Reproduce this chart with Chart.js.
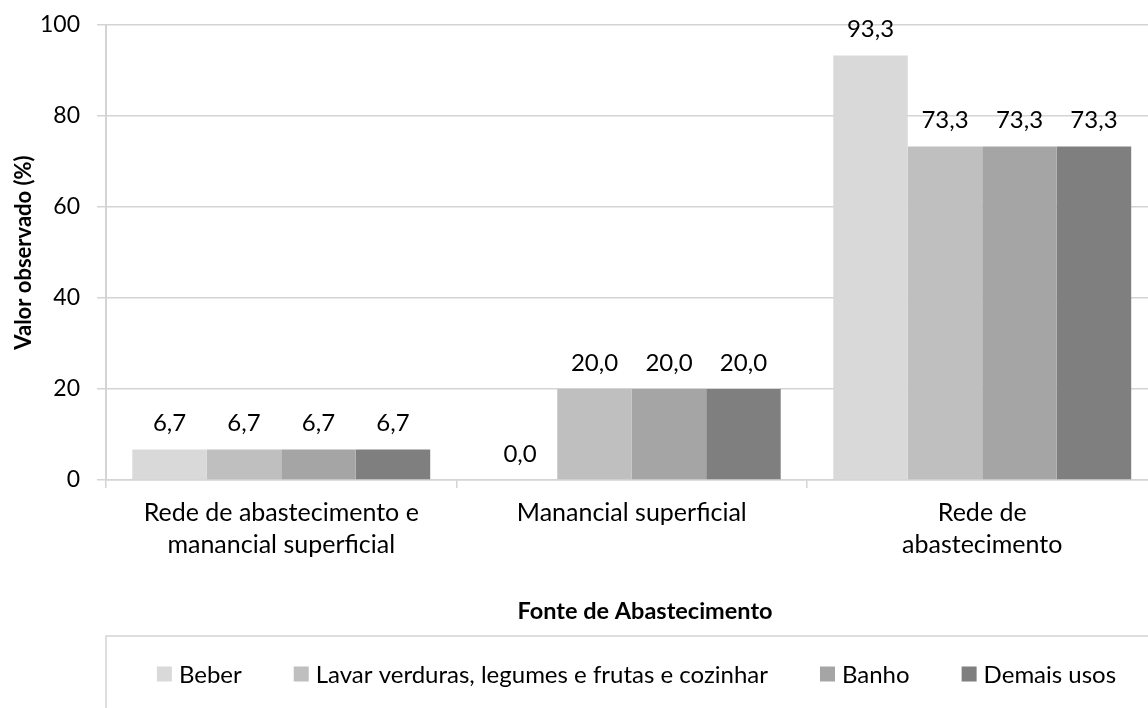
<!DOCTYPE html>
<html>
<head>
<meta charset="utf-8">
<script src="https://cdn.jsdelivr.net/npm/chart.js@4.4.0/dist/chart.umd.min.js"></script>
<style>
  html, body { margin: 0; padding: 0; background: #fff; overflow: hidden; }
  #wrap { width: 1160px; height: 708px; }
</style>
</head>
<body>
<div id="wrap"><canvas id="usoChart"></canvas></div>
<script>

/* DATA */
const fontes = [
  ["Rede de abastecimento e", "manancial superficial"],
  "Manancial superficial",
  ["Rede de", "abastecimento"]
];

const usos = [
  "Beber",
  "Lavar verduras, legumes e frutas e cozinhar",
  "Banho",
  "Demais usos"
];

const beber  = [6.7, 0.0, 93.3];
const lavar  = [6.7, 20.0, 73.3];
const banho  = [6.7, 20.0, 73.3];
const demais = [6.7, 20.0, 73.3];

const yTicks = [0, 20, 40, 60, 80, 100];

const cores = ["#d9d9d9", "#bfbfbf", "#a5a5a5", "#7f7f7f"];

const tituloX = "Fonte de Abastecimento";
const tituloY = "Valor observado (%)";

const FONT = "Lato";
const TXT = "#000000";
const LINHA = "#d4d4d4";

Chart.defaults.font.family = FONT;
Chart.defaults.color = TXT;

/* VALUE LABELS ABOVE BARS */
const valueLabels = {
  id: "valueLabels",
  afterDatasetsDraw(chart) {
    const ctx = chart.ctx;
    ctx.save();
    ctx.font = "24px " + FONT;
    ctx.fillStyle = TXT;
    ctx.textAlign = "center";
    ctx.textBaseline = "middle";
    chart.data.datasets.forEach((ds, i) => {
      chart.getDatasetMeta(i).data.forEach((bar, j) => {
        ctx.fillText(
          ds.data[j].toFixed(1).replace(".", ","),
          bar.x,
          bar.y - 26
        );
      });
    });
    ctx.restore();
  }
};

/* X TITLE + LEGEND IN A BOX UNDER IT */
const legendBox = {
  id: "legendBox",
  afterDraw(chart) {
    const ctx = chart.ctx;
    const left = chart.chartArea.left;
    const top = chart.scales.x.bottom;
    const right = left + 1061;
    const midY = top + 38;

    ctx.save();

    ctx.font = "bold 23.5px " + FONT;
    ctx.fillStyle = TXT;
    ctx.textAlign = "center";
    ctx.textBaseline = "middle";
    ctx.fillText(tituloX, 645, top - 25);

    ctx.strokeStyle = LINHA;
    ctx.lineWidth = 1.5;
    ctx.beginPath();
    ctx.moveTo(left, chart.height + 5);
    ctx.lineTo(left, top);
    ctx.lineTo(chart.width + 5, top);
    ctx.stroke();

    ctx.font = "24px " + FONT;
    ctx.textAlign = "left";
    const box = 15, gap = 7, space = 52;
    const widths = chart.data.datasets.map(ds =>
      box + gap + ctx.measureText(ds.label).width);
    const total = widths.reduce((a, b) => a + b, 0)
      + space * (widths.length - 1);

    let x = (left + right) / 2 - total / 2;
    chart.data.datasets.forEach((ds, i) => {
      ctx.fillStyle = ds.backgroundColor;
      ctx.fillRect(x, midY - box / 2, box, box);
      ctx.fillStyle = TXT;
      ctx.fillText(ds.label, x + box + gap, midY + 1);
      x += widths[i] + space;
    });
    ctx.restore();
  }
};

const series = [beber, lavar, banho, demais];

new Chart(
  document.getElementById("usoChart"),
  {
    type: "bar",

    data: {
      labels: fontes,
      datasets: series.map((vals, i) => ({
        label: usos[i],
        data: vals,
        backgroundColor: cores[i],
        borderWidth: 0,
        categoryPercentage: 0.85,
        barPercentage: 1.0
      }))
    },

    options: {
      responsive: true,
      maintainAspectRatio: false,
      animation: false,

      layout: {
        padding: { top: 25, right: 2.5, bottom: 72, left: 0 }
      },

      plugins: {
        legend: { display: false },
        tooltip: { enabled: false }
      },

      scales: {
        x: {
          afterFit(scale) { scale.height = 156; },
          grid: {
            drawOnChartArea: false,
            drawTicks: true,
            tickLength: 8,
            offset: true,
            color: LINHA,
            lineWidth: 1.5
          },
          border: { display: true, color: LINHA, width: 1.5 },
          ticks: {
            font: { size: 25, lineHeight: 1.28 },
            padding: 9,
            maxRotation: 0,
            autoSkip: false
          }
        },

        y: {
          afterFit(scale) {
            scale.width = 106;
            scale.paddingTop = 0;
          },
          min: yTicks[0],
          max: yTicks[yTicks.length - 1],
          grid: {
            color: LINHA,
            lineWidth: 1.5,
            tickLength: 9
          },
          border: { display: true, color: LINHA, width: 2 },
          ticks: {
            stepSize: yTicks[1] - yTicks[0],
            font: { size: 23 },
            padding: 17
          },
          title: {
            display: true,
            text: tituloY,
            font: { size: 22, weight: "bold", lineHeight: 1.2 },
            padding: { top: 11, bottom: 4 }
          }
        }
      }
    },

    plugins: [valueLabels, legendBox]
  }
);
</script>
</body>
</html>
